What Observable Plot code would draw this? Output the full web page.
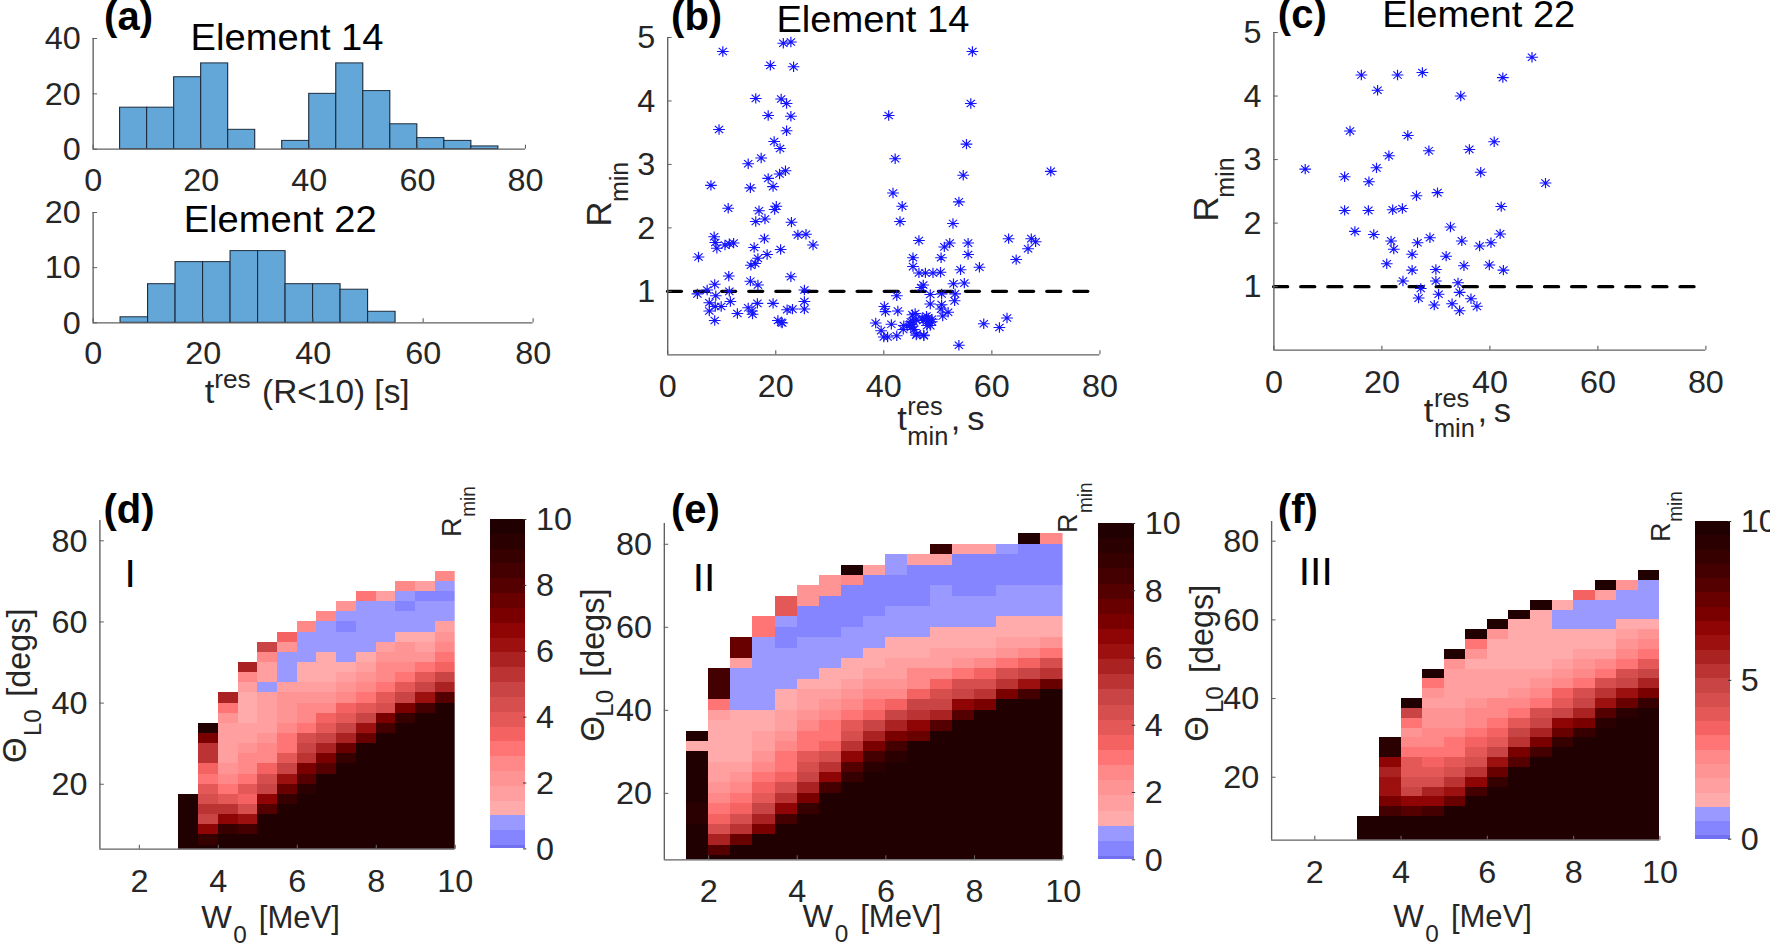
<!DOCTYPE html>
<html><head><meta charset="utf-8">
<script src="https://cdn.jsdelivr.net/npm/d3@7"></script>
<script src="https://cdn.jsdelivr.net/npm/@observablehq/plot@0.6"></script>
<style>
html,body{margin:0;padding:0;background:#fff;overflow:hidden;width:1770px;height:946px}
#c{position:absolute;left:0;top:0;width:1568px;height:946px;transform-origin:0 0;transform:scaleX(1.12883);font-family:"Liberation Sans",Arial,sans-serif}
#c svg{position:absolute;overflow:visible;background:transparent}
</style></head><body><div id="c"></div>
<script>
// ---------- histogram data ----------
const bins14 = [5,10,15,20,25,35,40,45,50,55,60,65,70];
const counts14 = [15,15,26,31,7,3,20,31,21,9,4,3,1];
const bins22 = [5,10,15,20,25,30,35,40,45,50];
const counts22 = [1,7,11,11,13,13,7,7,6,2];
const binWidth = 5;
// ---------- scatter (b), element 14 ----------
const tB = [5.7,5.5,7.3,8.0,8.6,8.8,9.1,10.6,11.4,12.2,8.7,8.9,7.7,7.7,8.8,9.9,8.7,11.6,11.3,11.4,11.2,9.5,10.2,12.9,14.9,15.6,15.7,16.6,15.3,16.7,14.9,15.3,17.3,16.9,16.3,18.0,17.9,16.0,16.7,16.2,15.4,18.4,16.3,18.6,19.0,21.4,22.8,23.3,21.0,22.0,22.8,22.0,19.7,20.8,21.8,20.7,18.6,19.5,20.1,19.8,22.9,24.1,25.6,26.9,20.9,22.8,25.3,19.5,25.3,25.3,22.1,23.1,20.4,21.0,21.2,
40.9,42.1,41.7,43.4,43.0,46.5,45.4,45.4,46.5,47.7,49.1,50.5,47.3,46.9,42.4,40.1,40.3,42.6,38.5,41.4,39.5,40.0,40.7,42.4,43.6,45.0,45.6,46.0,47.4,45.3,45.8,45.0,47.3,48.3,48.9,48.6,47.9,48.6,48.6,50.7,53.2,53.1,50.7,50.6,51.9,50.9,52.9,54.9,54.2,57.7,50.6,51.2,52.2,55.6,55.6,52.8,53.9,54.7,55.3,56.1,56.4,58.5,61.4,62.8,63.1,64.5,66.7,67.3,68.1,70.9,53.9,
45.5,46.0,47.8,48.2,48.9,47.1,45.0,45.3,48.0,43.7,44.9,47.4,46.1];
const rB = [1.54,.96,1.02,2.67,1.86,1.77,1.68,1.73,1.75,1.76,1.11,.93,.82,.69,.76,.76,.54,.84,1.24,1.0,2.31,3.55,4.78,.65,.74,.69,.64,.81,1.16,1.10,3.01,2.63,3.10,2.27,2.10,2.14,1.83,1.69,1.52,1.44,1.41,1.58,4.04,3.77,4.56,4.91,4.93,4.54,4.03,3.96,3.76,3.53,3.36,3.25,2.90,2.85,2.78,2.65,2.34,2.29,2.09,1.89,1.90,1.73,1.66,1.23,1.02,.81,.84,.72,.71,.72,.54,.51,.50,
3.77,3.09,2.55,2.34,2.10,1.80,1.53,1.39,1.29,1.29,1.29,1.30,1.10,1.06,.93,.76,.68,.69,.50,.48,.38,.28,.28,.30,.40,.48,.40,.31,.31,.63,.65,.43,.54,.54,.56,.46,.61,.80,.95,.96,.96,.85,.79,.72,.67,.61,1.12,1.13,1.34,1.38,1.53,1.70,1.76,1.76,1.58,2.07,2.41,2.83,3.32,3.96,4.78,.49,.43,.58,1.83,1.50,1.67,1.83,1.78,2.89,.15,
.52,.55,.56,.58,.52,.58,.52,.45,.46,.46,.48,.30,.33];
// ---------- scatter (c), element 22 ----------
const tC = [5.8,13.1,13.1,14.1,15.0,16.2,17.5,17.6,18.5,19.2,19.0,21.3,20.9,21.7,22.2,22.0,22.9,23.8,23.9,24.8,25.6,25.6,26.4,26.6,26.8,27.2,27.5,28.7,28.9,29.7,30.0,30.0,30.3,30.5,31.9,32.7,33.0,34.1,34.4,34.4,34.6,34.8,35.2,36.2,36.5,37.6,38.1,38.3,39.9,40.2,40.8,41.9,42.1,42.4,42.5,47.8,50.3];
const rC = [2.85,2.73,2.20,3.45,1.87,4.33,2.20,2.65,1.82,4.09,2.87,3.06,1.36,1.72,1.59,2.21,4.33,2.23,1.09,3.38,1.51,1.26,2.43,1.69,.82,.97,4.37,3.14,1.77,.71,1.09,1.27,2.48,.88,1.48,1.94,.73,1.06,.91,.62,4.00,1.72,1.33,3.16,.81,.69,1.64,2.80,1.34,1.69,3.28,1.83,2.26,4.29,1.26,4.61,2.63];
const dashLine = [[0,1],[78,1]];
// ---------- colour scale ----------
const rThresholds = [0.1,0.55,1,1.45,1.9,2.35,2.8,3.25,3.7,4.15,4.6,5.05,5.5,5.95,6.4,6.85,7.3,7.75,8.2,8.65,9.1,9.55];
const rColors = ["#7070f0","#8585ff","#9999ff","#ffabab","#ff9f9f","#ff9494","#ff8888","#ff7474","#f46262","#e45858","#d64e4e","#c94545","#bb3333","#ab2222","#9c1010","#8f0404","#7a0000","#680000","#550000","#440000","#360000","#2a0000","#200000"];
// ---------- heat maps: W0 column starts; each column lists Rmin from theta = 2.5 upward in 2.5 deg rows ----------
const wD = [3,3.5,4,4.5,5,5.5,6,6.5,7,7.5,8,8.5,9,9.5];
const rD = [
[10,10,10,10,10,10],
[10,8.9,6.6,4.8,5.3,4.4,3.9,3.0,3.5,5.3,5.3,7.1,10],
[10,10,8.9,6.6,5.3,3.9,3.0,2.6,2.1,1.7,1.7,1.7,1.7,2.1,3.0,5.7],
[10,10,8.4,6.2,4.4,3.5,3.9,3.0,2.6,2.6,2.1,1.7,1.7,1.2,1.2,1.2,1.7,2.6,5.7],
[10,10,10,10,8.0,6.6,4.8,4.4,3.5,2.6,2.6,2.1,1.7,1.7,1.7,1.7,.8,1.7,1.7,2.6,4.8],
[10,10,10,10,10,8.9,7.5,6.2,4.8,3.9,3.0,3.0,2.6,2.1,2.1,2.1,1.7,.8,.8,.8,2.1,3.5],
[10,10,10,10,10,10,9.3,8.0,7.1,5.3,4.8,4.4,3.0,2.6,2.6,2.1,1.7,1.2,1.2,.8,.8,.8,2.6],
[10,10,10,10,10,10,10,10,8.0,7.1,5.7,4.8,3.9,3.5,2.6,2.1,1.7,1.2,1.2,1.2,.8,.8,.8,2.6],
[10,10,10,10,10,10,10,10,10,8.9,7.5,5.7,4.8,3.9,3.5,2.6,2.1,1.7,1.2,.8,.8,.8,.3,.8,2.1],
[10,10,10,10,10,10,10,10,10,10,10,7.5,6.2,4.8,3.9,3.0,2.6,2.1,1.7,1.2,.8,.8,.8,.8,.8,3.0],
[10,10,10,10,10,10,10,10,10,10,10,10,8.4,7.1,4.4,3.9,3.0,2.6,2.6,2.1,1.7,.8,.8,.8,.8,1.7],
[10,10,10,10,10,10,10,10,10,10,10,10,10,8.9,7.1,4.8,3.9,3.0,2.6,2.1,2.1,1.2,.8,.8,.3,.8,2.6],
[10,10,10,10,10,10,10,10,10,10,10,10,10,10,8.4,6.2,4.8,3.9,3.0,2.1,1.7,1.2,.8,.8,.8,.3,1.7],
[10,10,10,10,10,10,10,10,10,10,10,10,10,10,10,8.0,5.7,4.8,3.5,3.0,2.6,2.1,1.7,.8,.8,.3,.8,2.6]];
const wE = [1.5,2,2.5,3,3.5,4,4.5,5,5.5,6,6.5,7,7.5,8,8.5,9,9.5];
const rE = [
[10,10,10,10,9.3,9.3,10,10,10,10,10,1.2,10],
[10,8.0,5.7,4.4,3.5,3.0,2.6,2.1,1.7,1.7,1.2,1.2,1.2,1.2,1.7,3.0,8.4,8.4,8.4],
[10,10,7.5,5.3,4.4,3.5,3.0,2.6,2.1,1.7,1.2,1.2,1.2,1.2,1.2,.8,.8,.8,.8,1.7,7.5,7.5],
[10,10,10,7.1,5.7,4.8,3.9,3.5,3.0,2.6,2.1,1.7,1.7,1.2,1.2,.8,.8,.8,.8,.8,.8,.8,3.0,3.0],
[10,10,10,10,8.4,6.6,5.3,4.4,3.5,3.0,3.0,2.6,2.1,1.7,1.7,1.2,1.2,.8,.8,.8,.8,.3,.3,.8,3.9,3.9],
[10,10,10,10,10,8.9,7.1,5.7,4.8,4.4,3.9,3.0,3.0,2.6,2.1,1.7,1.7,1.2,.8,.8,.8,.8,.3,.3,.3,2.1,2.1],
[10,10,10,10,10,10,10,8.4,6.6,5.3,4.4,3.5,3.0,3.0,2.6,2.1,1.7,1.2,1.2,.8,.8,.8,.3,.3,.3,.3,2.1,2.1],
[10,10,10,10,10,10,10,10,8.9,8.0,6.6,5.3,4.4,3.9,3.0,2.6,2.1,1.7,1.2,1.2,.8,.8,.8,.3,.3,.3,.3,2.6,10],
[10,10,10,10,10,10,10,10,10,9.3,8.4,7.1,5.7,4.8,3.5,3.0,2.6,2.1,1.7,1.2,1.2,.8,.8,.8,.3,.3,.3,.3,1.7],
[10,10,10,10,10,10,10,10,10,10,9.3,8.4,7.1,5.7,4.8,3.5,2.6,2.1,1.7,1.7,1.2,1.2,.8,.8,.8,.3,.3,.3,.8,.8],
[10,10,10,10,10,10,10,10,10,10,10,10,7.5,6.6,5.3,4.8,3.5,2.6,2.6,1.7,1.2,1.2,.8,.8,.8,.3,.3,.3,.3,1.7],
[10,10,10,10,10,10,10,10,10,10,10,10,10,8.0,5.7,4.8,4.4,3.5,2.6,1.7,1.7,1.2,1.2,.8,.8,.8,.8,.3,.3,1.7,8.9],
[10,10,10,10,10,10,10,10,10,10,10,10,10,10,8.0,6.6,4.8,4.4,3.0,2.1,1.7,1.2,1.2,.8,.8,.8,.3,.3,.3,.3,1.7],
[10,10,10,10,10,10,10,10,10,10,10,10,10,10,10,7.1,5.3,4.4,3.5,2.6,1.7,1.2,1.2,.8,.8,.8,.3,.3,.3,.3,1.7],
[10,10,10,10,10,10,10,10,10,10,10,10,10,10,10,10,7.1,5.3,4.4,3.0,2.1,1.7,1.2,1.2,.8,.8,.8,.3,.3,.3,.8],
[10,10,10,10,10,10,10,10,10,10,10,10,10,10,10,10,8.4,6.2,4.8,3.5,2.6,1.7,1.2,1.2,.8,.8,.8,.3,.3,.3,.3,10],
[10,10,10,10,10,10,10,10,10,10,10,10,10,10,10,10,10,7.5,5.3,4.4,3.0,2.1,1.2,1.2,.8,.8,.8,.3,.3,.3,.3,2.6]];
const wF = [3,3.5,4,4.5,5,5.5,6,6.5,7,7.5,8,8.5,9,9.5];
const rF = [
[10,10,10],
[10,10,10,8.4,7.1,6.2,6.2,5.7,6.6,9.3,9.3],
[10,10,10,8.0,6.6,4.8,4.4,3.9,3.9,3.0,2.6,2.1,3.0,4.8,10],
[10,10,10,8.4,6.6,5.7,4.4,3.9,3.5,3.0,2.6,2.6,2.1,2.1,1.7,2.1,3.0,10],
[10,10,10,10,7.5,6.2,5.3,4.4,3.9,3.0,3.0,2.6,2.1,2.1,1.7,1.7,1.7,1.7,2.1,10],
[10,10,10,10,10,8.4,6.6,5.3,4.4,3.9,3.5,3.0,2.6,2.6,2.1,1.7,1.7,1.7,1.2,2.1,3.0,10],
[10,10,10,10,10,10,8.9,7.5,6.2,4.8,3.9,3.5,3.0,2.6,2.6,1.7,1.7,1.7,1.2,1.2,1.2,2.1,10],
[10,10,10,10,10,10,10,10,8.0,7.1,5.3,4.8,3.9,3.0,2.6,2.1,1.7,1.7,1.2,1.2,1.2,1.2,1.2,10],
[10,10,10,10,10,10,10,10,10,8.4,7.1,5.7,4.8,4.4,3.0,2.6,2.1,1.7,1.2,1.2,1.2,1.2,1.2,1.2,10],
[10,10,10,10,10,10,10,10,10,10,8.9,7.5,6.6,4.8,3.9,3.5,2.6,2.1,1.7,1.2,1.2,1.2,.8,.8,1.2],
[10,10,10,10,10,10,10,10,10,10,10,8.9,7.1,5.7,4.8,4.4,3.0,2.6,2.1,1.7,1.2,1.2,.8,.8,.8,3.5],
[10,10,10,10,10,10,10,10,10,10,10,10,9.3,8.0,6.2,5.3,4.4,3.0,2.6,1.7,1.2,1.2,.8,.8,.8,1.7,10],
[10,10,10,10,10,10,10,10,10,10,10,10,10,9.3,7.5,6.2,4.8,4.4,3.0,2.6,2.1,1.7,1.2,.8,.8,.8,2.1],
[10,10,10,10,10,10,10,10,10,10,10,10,10,10,8.9,7.1,5.7,4.8,3.9,3.0,2.6,2.1,1.2,.8,.8,.8,.8,10]];
const rowStart = 2.5, rowStep = 2.5, colStep = 0.5;
// ---------- ticks ----------
const tTicks = [0,20,40,60,80];
const countTicks14 = [0,20,40];
const countTicks22 = [0,10,20];
const rminTicks = [1,2,3,4,5];
const wTicks = [2,4,6,8,10];
const thetaTicks = [20,40,60,80];
const barTicks = [0,2,4,6,8,10];
const barTicksF = [0,5,10];

// ---------- layout helpers ----------
const root = document.getElementById("c");
const ML = 70, MR = 70, MT = 10, MB = 60;
const axisColor = "#606060", textColor = "#262626";
function place(b, opts) {
  const svg = Plot.plot({
    width: b.x1 - b.x0 + ML + MR, height: b.y1 - b.y0 + MT + MB,
    marginLeft: ML, marginRight: MR, marginTop: MT, marginBottom: MB,
    style: {background: "transparent", maxWidth: "none", fontSize: "30.5px", fontFamily: '"Liberation Sans",Arial,sans-serif', overflow: "visible"},
    ...opts
  });
  // tick digits in the reference are a little narrower than the stretched page gives
  svg.querySelectorAll("text").forEach(el => {
    if (el.hasAttribute("x")) el.setAttribute("x", +el.getAttribute("x") / 0.94);
    el.setAttribute("transform", (el.getAttribute("transform") || "") + " translate(0,1) scale(0.94,1)");
  });
  svg.style.left = (b.x0 - ML) + "px";
  svg.style.top = (b.y0 - MT) + "px";
  root.appendChild(svg);
}
function axes(xd, yd, xt, yt, padX, padY) {
  return [
    Plot.ruleX([xd[0]], {stroke: axisColor, strokeWidth: 1.2}),
    Plot.ruleY([yd[0]], {stroke: axisColor, strokeWidth: 1.2}),
    Plot.axisX(xt, {anchor: "bottom", tickSize: -4, tickPadding: padX + 4, color: textColor, stroke: axisColor, label: null, tickFormat: "d"}),
    Plot.axisY(yt, {anchor: "left", tickSize: -4, tickPadding: padY + 4, color: textColor, stroke: axisColor, label: null, tickFormat: "d"})
  ];
}
function hist(b, bins, counts, yd, yt) {
  const rows = bins.map((s, i) => ({s, e: s + binWidth, c: counts[i]}));
  place(b, {
    x: {domain: [0, 80], label: null}, y: {domain: yd, label: null},
    marks: [
      Plot.rectY(rows, {x1: "s", x2: "e", y: "c", fill: "#63a7d8", stroke: "#1e2c3c", strokeWidth: 1}),
      ...axes([0, 80], yd, tTicks, yt, 19, 11)
    ]
  });
}
const star = {draw(ctx, size) {
  const r = Math.sqrt(size / Math.PI);
  for (let i = 0; i < 4; i++) {
    const a = i * Math.PI / 4, dx = r * Math.cos(a), dy = r * Math.sin(a);
    ctx.moveTo(-dx, -dy); ctx.lineTo(dx, dy);
  }
}};
function scatter(b, t, r) {
  const pts = t.map((v, i) => ({t: v, r: r[i]}));
  place(b, {
    x: {domain: [0, 80], label: null}, y: {domain: [0, 5], label: null},
    marks: [
      Plot.line(dashLine, {x: d => d[0], y: d => d[1], stroke: "#000", strokeWidth: 3.4, strokeDasharray: "12 12"}),
      Plot.dot(pts, {x: "t", y: "r", symbol: star, r: 5.2, fill: "none", stroke: "#1414ff", strokeWidth: 1.05}),
      ...axes([0, 80], [0, 5], tTicks, rminTicks, 20, 11)
    ]
  });
}
const colorOpt = {type: "threshold", domain: rThresholds, range: rColors};
function heat(b, ws, rs) {
  const cells = ws.flatMap((w, i) => rs[i].map((v, j) => ({
    w1: w, w2: w + colStep, t1: rowStart + j * rowStep, t2: rowStart + (j + 1) * rowStep, r: v})));
  place(b, {
    x: {domain: [1, 10], label: null}, y: {domain: [4, 85], label: null}, color: colorOpt,
    marks: [
      Plot.rect(cells, {x1: "w1", x2: "w2", y1: "t1", y2: "t2", fill: "r", clip: true, shapeRendering: "crispEdges"}),
      ...axes([1, 10], [4, 85], wTicks, thetaTicks, 20, 11)
    ]
  });
}
function colorbar(b, ticks) {
  const low = [0, ...rThresholds], high = [...rThresholds, 10];
  const bands = low.map((l, i) => ({l, h: high[i]}));
  place(b, {
    x: {domain: [0, 1], axis: null}, y: {domain: [0, 10], label: null}, color: colorOpt,
    marks: [
      Plot.rect(bands, {x1: 0, x2: 1, y1: "l", y2: "h", fill: "l", shapeRendering: "crispEdges"}),
      Plot.axisY(ticks, {anchor: "right", tickSize: -3, tickPadding: 12, color: textColor, stroke: "#333", label: null, tickFormat: "d"})
    ]
  });
}
// ---------- panels ----------
hist({x0: 82.4, x1: 465.4, y0: 38.3, y1: 149}, bins14, counts14, [0, 40], countTicks14);
hist({x0: 82.4, x1: 472.2, y0: 212, y1: 322.3}, bins22, counts22, [0, 20], countTicks22);
scatter({x0: 591.3, x1: 974.2, y0: 36.7, y1: 354}, tB, rB);
scatter({x0: 1127.6, x1: 1510.3, y0: 32.3, y1: 350}, tC, rC);
heat({x0: 87.5, x1: 402.3, y0: 520, y1: 848.7}, wD, rD);
heat({x0: 588.4, x1: 941.7, y0: 522.7, y1: 859}, wE, rE);
heat({x0: 1126, x1: 1470, y0: 521, y1: 839.7}, wF, rF);
colorbar({x0: 434, x1: 465.3, y0: 519.3, y1: 848.7}, barTicks);
colorbar({x0: 973.4, x1: 1005, y0: 522.7, y1: 859}, barTicks);
colorbar({x0: 1502.3, x1: 1533, y0: 521, y1: 838.7}, barTicksF);

// ---------- titles and rich labels (real text) ----------
const overlay = d3.select(root).append("svg").attr("width", 1568).attr("height", 946).style("left", 0).style("top", 0)
  .attr("font-family", '"Liberation Sans",Arial,sans-serif');
function T(s, x, y, fs, o = {}) {
  const sx = o.sx || 0.9;
  const t = overlay.append("text").text(s).attr("font-size", fs).attr("fill", o.fill || textColor)
    .attr("transform", `translate(${x},${y})` + (o.rot ? ` rotate(-90) scale(1,${sx})` : ` scale(${sx},1)`));
  if (o.bold) t.attr("font-weight", "bold");
  if (o.mid) t.attr("text-anchor", "middle");
}
const B = {bold: true, fill: "#000", sx: 0.886}, K = {fill: "#000", sx: 0.926}, Rt = {rot: true}, Rm = {fill: "#000", mid: true, sx: 0.926};
T("(a)", 92.2, 30, 40, B); T("(b)", 594.5, 30, 40, B); T("(c)", 1132, 28, 40, B);
T("(d)", 91.7, 523, 40, B); T("(e)", 594.4, 523, 40, B); T("(f)", 1132, 523, 40, B);
T("Element 14", 168.8, 50, 36.5, K); T("Element 22", 162.7, 232, 36.5, K);
T("Element 14", 687.8, 32, 36.5, K); T("Element 22", 1224.6, 27, 36.5, K);
T("I", 115.3, 586.7, 39, Rm); T("II", 623.7, 590.7, 39, Rm); T("III", 1165.6, 585, 39, Rm);
// t^res (R<10) [s]
T("t", 181.4, 403, 34); T("res", 189.8, 388, 25, {sx: .93}); T("(R<10) [s]", 232.2, 403, 34, {sx: .87});
// t^res_min, s
for (const [x, y] of [[794.8, 430], [1261.3, 421.7]]) {
  T("t", x, y, 34); T("res", x + 9, y - 15, 25); T("min", x + 9, y + 15, 25); T(",", x + 47.5, y, 34); T("s", x + 62, y, 34);
}
// R_min scatter
T("R", 541.6, 226.7, 35, Rt); T("min", 556.5, 202, 25, Rt);
T("R", 1078.6, 221.7, 35, Rt); T("min", 1093, 197.7, 25, Rt);
// R_min colourbars
T("R", 408, 537, 27, Rt); T("min", 420.7, 516.7, 19, Rt);
T("R", 954.4, 533, 27, Rt); T("min", 967, 513, 19, Rt);
T("R", 1479.6, 542, 27, Rt); T("min", 1490.3, 521.7, 19, Rt);
// Theta_L0 [degs]
for (const [xT, yT, xS, yS, xD, yD] of [[23, 763, 36, 736, 26.7, 696.7], [534.7, 741.7, 543.4, 716.7, 534.7, 676.7], [1070.3, 741.7, 1083.6, 713, 1074.3, 673]]) {
  T("Θ", xT, yT, 33, Rt); T("L0", xS, yS, 24, Rt); T("[degs]", xD, yD, 32.4, Rt);
}
// W_0 [MeV]
for (const [x, y] of [[178.3, 928], [711, 926.7], [1234.3, 926.7]]) {
  T("W", x, y, 32); T("0", x + 28.4, y + 15, 24); T("[MeV]", x + 51, y, 32, {sx: .86});
}
</script></body></html>
